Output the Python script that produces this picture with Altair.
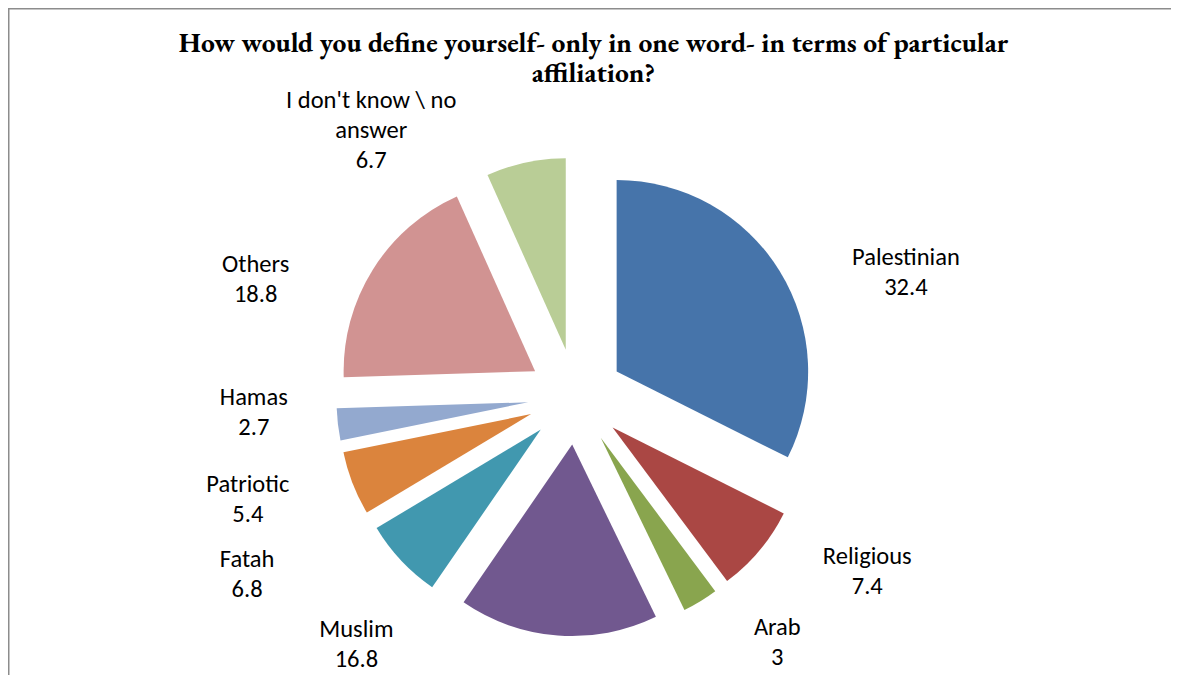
import altair as alt
import pandas as pd

# ---- data ----
categories = ["Palestinian", "Religious", "Arab", "Muslim", "Fatah",
              "Patriotic", "Hamas", "Others", "I don't know \\ no answer"]
label_names = ["Palestinian", "Religious", "Arab", "Muslim", "Fatah",
               "Patriotic", "Hamas", "Others", "I don't know \\ no\nanswer"]
values = [32.4, 7.4, 3, 16.8, 6.8, 5.4, 2.7, 18.8, 6.7]
colors = ["#4674AA", "#AA4744", "#89A54E", "#71588F", "#4198AF",
          "#DB843D", "#93A9CF", "#D19392", "#B9CD96"]
title_lines = ["How would you define yourself- only in one word- in terms of particular",
               "affiliation?"]

# ---- label layout (angular nudge from slice bisector, distance from centre) ----
label_nudge_deg = [11.1, -9.0, -8.0, 37.2, 14.7, 3.8, 3.8, -12.0, -25.5]
label_radius = [352.6, 339.9, 318.0, 331.0, 374.0, 343.8, 322.4, 340.8, 335.6]

W, H = 1163, 667
CX, CY = 567.8, 388.7   # pie centre in view pixels
R = 191.5               # pie radius
EXPLODE = 48            # explosion distance
LH = 30                 # label line height

labels_txt = [f"{n}\n{v:g}" for n, v in zip(label_names, values)]
df = pd.DataFrame({
    "order": list(range(len(values))),
    "category": categories,
    "value": values,
    "label": labels_txt,
    "nl": [t.count("\n") for t in labels_txt],
    "nudge": label_nudge_deg,
    "lr": label_radius,
})

base = (
    alt.Chart(df)
    .transform_window(cum="sum(value)", sort=[alt.SortField("order", order="ascending")], frame=[None, 0])
    .transform_joinaggregate(total="sum(value)")
    .transform_calculate(t1="2*PI*datum.cum/datum.total")
    .transform_calculate(t0="datum.t1 - 2*PI*datum.value/datum.total")
    .transform_calculate(mid="(datum.t0 + datum.t1)/2")
    .transform_calculate(cx=f"{CX} + {EXPLODE}*sin(datum.mid)")
    .transform_calculate(cy=f"{CY} - {EXPLODE}*cos(datum.mid)")
    .transform_calculate(la="datum.mid + datum.nudge*PI/180")
    .transform_calculate(lx=f"{CX} + datum.lr*sin(datum.la)")
    .transform_calculate(ly=f"{CY} - datum.lr*cos(datum.la) - datum.nl*{LH}/2")
)

arcs = base.mark_arc(outerRadius=R).encode(
    x=alt.X("cx:Q", scale=None, axis=None),
    y=alt.Y("cy:Q", scale=None, axis=None),
    theta=alt.Theta("t0:Q", scale=None),
    theta2=alt.Theta2("t1:Q"),
    color=alt.Color("category:N", scale=alt.Scale(domain=categories, range=colors), legend=None),
)

labels = base.mark_text(
    font="Carlito, Lato", fontSize=24.5, lineBreak="\n", lineHeight=LH,
    align="center", baseline="middle", color="#000000",
).encode(
    x=alt.X("lx:Q", scale=None, axis=None),
    y=alt.Y("ly:Q", scale=None, axis=None),
    text="label:N",
)

title = alt.Chart(pd.DataFrame({"t": ["\n".join(title_lines)]})).mark_text(
    font="EB Garamond, Garamond, Liberation Serif", fontSize=27.5, fontWeight="bold",
    lineBreak="\n", lineHeight=29.5, align="center", baseline="alphabetic", color="#000000",
).encode(x=alt.value(585.5), y=alt.value(44.3), text="t:N")

border_df = pd.DataFrame({"a": [0]})
top_border = alt.Chart(border_df).mark_rule(color="#8c8c8c", strokeWidth=1.5).encode(
    x=alt.value(0), x2=alt.value(W), y=alt.value(0.75))
left_border = alt.Chart(border_df).mark_rule(color="#8c8c8c", strokeWidth=1.5).encode(
    x=alt.value(0.75), y=alt.value(0), y2=alt.value(H))

chart = (
    alt.layer(top_border, left_border, arcs, labels, title)
    .properties(width=W, height=H, padding=0, autosize="none", background="white")
    .configure_view(strokeWidth=0)
)

chart.save("out.html", embed_options={"renderer": "svg", "actions": False})
